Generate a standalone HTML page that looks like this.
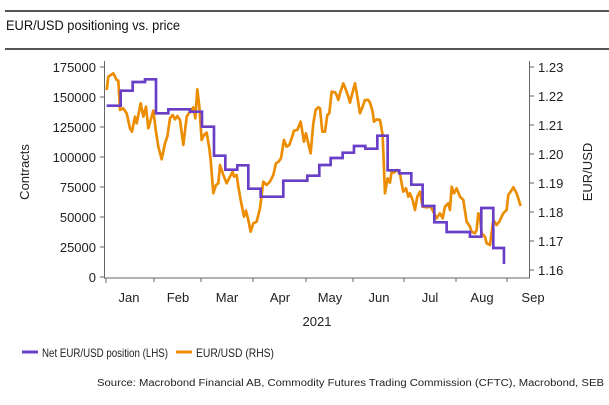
<!DOCTYPE html>
<html><head><style>
body{margin:0;background:#fff;font-family:"Liberation Sans",sans-serif;}
</style></head><body>
<svg width="609" height="400" xmlns="http://www.w3.org/2000/svg" font-family="Liberation Sans, sans-serif">
<rect width="609" height="400" fill="#fff"/>
<line x1="5" y1="11" x2="609" y2="11" stroke="#555" stroke-width="2"/>
<line x1="5" y1="49" x2="609" y2="49" stroke="#555" stroke-width="2"/>
<text x="6" y="30" font-size="14" fill="#111" textLength="174" lengthAdjust="spacingAndGlyphs">EUR/USD positioning vs. price</text>
<g stroke="#666" stroke-width="1">
<line x1="104.5" y1="61" x2="104.5" y2="278"/>
<line x1="529.5" y1="61" x2="529.5" y2="278"/>
<line x1="104" y1="278" x2="530" y2="278"/>
<line x1="100" y1="67" x2="104" y2="67"/><line x1="100" y1="97" x2="104" y2="97"/><line x1="100" y1="127" x2="104" y2="127"/><line x1="100" y1="157" x2="104" y2="157"/><line x1="100" y1="187" x2="104" y2="187"/><line x1="100" y1="217" x2="104" y2="217"/><line x1="100" y1="247" x2="104" y2="247"/><line x1="100" y1="277" x2="104" y2="277"/>
<line x1="530" y1="67" x2="534" y2="67"/><line x1="530" y1="96" x2="534" y2="96"/><line x1="530" y1="125" x2="534" y2="125"/><line x1="530" y1="154" x2="534" y2="154"/><line x1="530" y1="183" x2="534" y2="183"/><line x1="530" y1="212" x2="534" y2="212"/><line x1="530" y1="241" x2="534" y2="241"/><line x1="530" y1="270" x2="534" y2="270"/>
<line x1="106" y1="278" x2="106" y2="283"/><line x1="154" y1="278" x2="154" y2="282"/><line x1="201" y1="278" x2="201" y2="282"/><line x1="253" y1="278" x2="253" y2="282"/><line x1="306" y1="278" x2="306" y2="282"/><line x1="353" y1="278" x2="353" y2="282"/><line x1="404" y1="278" x2="404" y2="282"/><line x1="456" y1="278" x2="456" y2="282"/><line x1="507" y1="278" x2="507" y2="282"/>
</g>
<g font-size="13" fill="#222" text-anchor="end">
<text x="96" y="72">175000</text><text x="96" y="102">150000</text><text x="96" y="132">125000</text><text x="96" y="162">100000</text><text x="96" y="192">75000</text><text x="96" y="222">50000</text><text x="96" y="252">25000</text><text x="96" y="282">0</text>
</g>
<g font-size="13" fill="#222">
<text x="538" y="72">1.23</text><text x="538" y="101">1.22</text><text x="538" y="130">1.21</text><text x="538" y="159">1.20</text><text x="538" y="188">1.19</text><text x="538" y="217">1.18</text><text x="538" y="246">1.17</text><text x="538" y="275">1.16</text>
</g>
<g font-size="13" fill="#222" text-anchor="middle">
<text x="129" y="302">Jan</text><text x="178" y="302">Feb</text><text x="227" y="302">Mar</text><text x="280" y="302">Apr</text><text x="330" y="302">May</text><text x="379" y="302">Jun</text><text x="430" y="302">Jul</text><text x="482" y="302">Aug</text><text x="533" y="302">Sep</text>
<text x="317" y="326">2021</text>
<text transform="translate(29,172) rotate(-90)">Contracts</text>
<text transform="translate(592,172) rotate(-90)">EUR/USD</text>
</g>
<g transform="translate(90,60) scale(0.3333)" fill="none" stroke-width="8" stroke-linejoin="round">
<path stroke="#ec8c00" d="M50,90 55,50 70,40 80,60 85,62 90,150 100,145 110,160 120,205 126,215 135,170 140,190 152,130 160,170 168,140 175,205 182,180 190,152 198,215 205,260 215,298 225,250 232,230 240,175 248,165 255,178 262,168 270,180 280,255 290,170 300,155 310,142 316,175 322,88 328,140 335,240 342,225 350,218 358,265 362,300 370,400 378,375 385,370 390,315 400,345 410,370 420,350 428,335 432,350 440,345 445,380 452,420 462,470 468,452 475,480 482,515 490,490 500,485 510,445 520,365 530,375 540,365 550,345 558,310 566,305 573,295 582,240 590,260 598,255 605,235 612,212 622,210 632,185 642,245 648,220 656,255 662,280 670,190 677,150 685,142 690,145 697,215 705,215 712,165 718,160 725,95 735,97 740,105 745,120 750,100 760,70 768,90 775,110 780,128 787,100 795,70 802,110 810,160 818,140 825,120 835,120 840,128 848,155 852,185 860,178 870,180 878,225 885,400 893,355 900,368 905,335 912,338 920,330 930,340 935,370 940,395 948,385 955,410 960,400 968,420 975,450 982,410 990,395 998,440 1010,442 1022,440 1030,455 1040,475 1050,460 1058,475 1065,440 1075,430 1080,450 1085,380 1092,400 1100,385 1110,410 1120,420 1130,485 1140,500 1145,515 1155,520 1160,510 1165,460 1170,470 1175,520 1185,530 1190,550 1200,555 1210,480 1220,495 1228,485 1240,460 1250,450 1255,405 1262,395 1270,382 1280,400 1285,415 1292,438"/>
<path stroke="#6a3fc8" stroke-linejoin="miter" d="M50,137 H92 V92 H128 V66 H165 V58 H198 V160 H235 V148 H300 V155 H336 V200 H372 V287 H406 V329 H442 V316 H475 V386 H512 V410 H580 V362 H652 V347 H688 V315 H722 V294 H758 V278 H792 V258 H826 V266 H862 V227 H893 V331 H928 V340 H964 V374 H998 V438 H1033 V487 H1070 V516 H1140 V530 H1174 V444 H1210 V564 H1242 V612"/>
</g>
<line x1="22" y1="352" x2="38" y2="352" stroke="#6a3fc8" stroke-width="3"/>
<text x="42" y="357" font-size="12" fill="#222" textLength="126" lengthAdjust="spacingAndGlyphs">Net EUR/USD position (LHS)</text>
<line x1="176" y1="352" x2="192" y2="352" stroke="#ec8c00" stroke-width="3"/>
<text x="196" y="357" font-size="12" fill="#222" textLength="78" lengthAdjust="spacingAndGlyphs">EUR/USD (RHS)</text>
<text x="604" y="386" font-size="10" fill="#222" text-anchor="end" textLength="507" lengthAdjust="spacingAndGlyphs">Source: Macrobond Financial AB, Commodity Futures Trading Commission (CFTC), Macrobond, SEB</text>
</svg>
</body></html>
